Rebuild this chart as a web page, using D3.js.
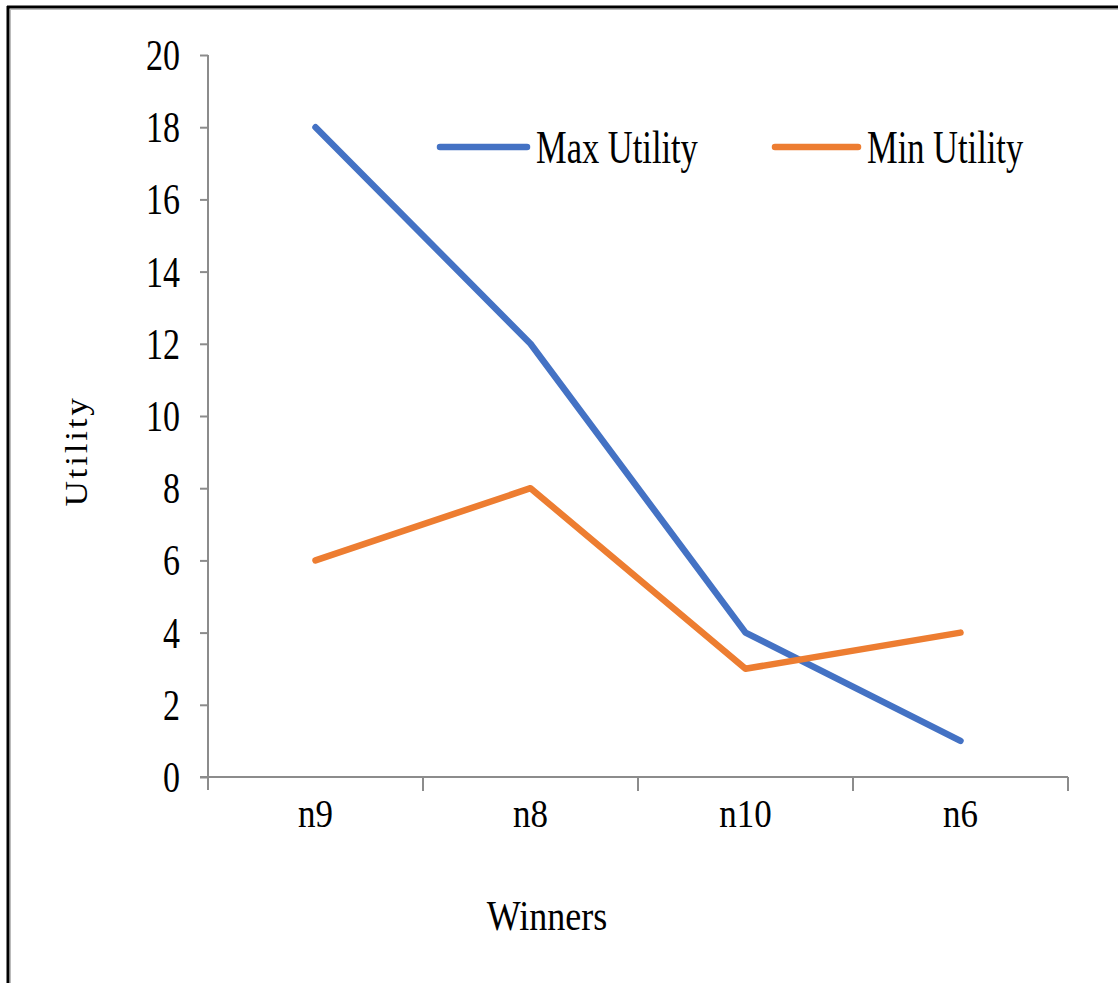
<!DOCTYPE html>
<html>
<head>
<meta charset="utf-8">
<script src="https://cdn.jsdelivr.net/npm/d3@7"></script>
<style>
  html, body { margin: 0; padding: 0; background: #fff; }
  svg { display: block; }
  text { font-family: "Liberation Serif", "Times New Roman", serif; fill: #000; }
</style>
</head>
<body>
<svg id="chart" width="1118" height="983"></svg>
<script>
// Winners and their utility values
const winners = ["n9", "n8", "n10", "n6"];
const maxUtility = [18, 12, 4, 1];
const minUtility = [6, 8, 3, 4];
const yTicks = [0, 2, 4, 6, 8, 10, 12, 14, 16, 18, 20];
const seriesNames = ["Max Utility", "Min Utility"];
const seriesColors = ["#4472C4", "#ED7D31"];

const svg = d3.select("#chart");
const W = 1118, H = 983;
const plot = { left: 208, right: 1068, top: 55, bottom: 777 };

// Frame around the figure
svg.append("line").attr("x1", 7).attr("x2", W).attr("y1", 7).attr("y2", 7)
  .attr("stroke", "#000").attr("stroke-width", 3);
svg.append("line").attr("x1", 8).attr("x2", 8).attr("y1", 6).attr("y2", H)
  .attr("stroke", "#000").attr("stroke-width", 3);
svg.append("line").attr("x1", 10).attr("x2", W).attr("y1", 9.5).attr("y2", 9.5)
  .attr("stroke", "#bbb").attr("stroke-width", 1);
svg.append("line").attr("x1", 10.5).attr("x2", 10.5).attr("y1", 10).attr("y2", H)
  .attr("stroke", "#bbb").attr("stroke-width", 1);

// Scales
const x = d3.scaleBand().domain(winners).range([plot.left, plot.right]).padding(0);
const y = d3.scaleLinear().domain([0, 20]).range([plot.bottom, plot.top]);
const axisColor = "#8c8c8c";

// Y axis: line and outward ticks
const yAxis = svg.append("g").attr("transform", `translate(${plot.left},0)`)
  .call(d3.axisLeft(y).tickValues(yTicks).tickSize(8).tickSizeOuter(0).tickFormat(""));
yAxis.select(".domain").attr("stroke", axisColor).attr("stroke-width", 2)
  .attr("d", `M0,${plot.top}V${plot.bottom + 13}`);
yAxis.selectAll(".tick line").attr("stroke", axisColor).attr("stroke-width", 2);

// Y tick labels
svg.append("g").selectAll("text").data(yTicks).join("text")
  .attr("transform", d => `translate(180,${y(d) + 15}) scale(1,1.3)`)
  .attr("text-anchor", "end")
  .style("font-size", "34px")
  .text(d => d);

// X axis: baseline and tick marks at category boundaries
svg.append("line")
  .attr("x1", plot.left - 8).attr("x2", plot.right)
  .attr("y1", plot.bottom).attr("y2", plot.bottom)
  .attr("stroke", axisColor).attr("stroke-width", 2);
const boundaries = winners.map(w => x(w)).concat([x(winners[winners.length - 1]) + x.bandwidth()]);
svg.append("g").selectAll("line").data(boundaries.slice(1)).join("line")
  .attr("x1", d => d).attr("x2", d => d)
  .attr("y1", plot.bottom).attr("y2", plot.bottom + 14)
  .attr("stroke", axisColor).attr("stroke-width", 2);

// X tick labels
svg.append("g").selectAll("text").data(winners).join("text")
  .attr("transform", d => `translate(${x(d) + x.bandwidth() / 2},827) scale(1,1.15)`)
  .attr("text-anchor", "middle")
  .style("font-size", "35px")
  .text(d => d);

// Axis titles
svg.append("text")
  .attr("transform", "translate(547,930) scale(1,1.17)")
  .attr("text-anchor", "middle")
  .style("font-size", "36px")
  .text("Winners");
svg.append("text")
  .attr("transform", "translate(87,451) rotate(-90) scale(1.1,1)")
  .attr("text-anchor", "middle")
  .style("font-size", "32px")
  .style("letter-spacing", "2.5px")
  .text("Utility");

// Series lines
const line = d3.line()
  .x((d, i) => x(winners[i]) + x.bandwidth() / 2)
  .y(d => y(d));
[maxUtility, minUtility].forEach((vals, k) => {
  svg.append("path")
    .datum(vals)
    .attr("d", line)
    .attr("fill", "none")
    .attr("stroke", seriesColors[k])
    .attr("stroke-width", 6.5)
    .attr("stroke-linejoin", "round")
    .attr("stroke-linecap", "round");
});

// Legend
const legendItems = [
  { x1: 440, x2: 527, tx: 536 },
  { x1: 775, x2: 858, tx: 867 }
];
const legend = svg.append("g");
legendItems.forEach((it, k) => {
  legend.append("line")
    .attr("x1", it.x1).attr("x2", it.x2).attr("y1", 147).attr("y2", 147)
    .attr("stroke", seriesColors[k]).attr("stroke-width", 6.5)
    .attr("stroke-linecap", "round");
  legend.append("text")
    .attr("transform", `translate(${it.tx},163) scale(1,1.32)`)
    .style("font-size", "34.5px")
    .text(seriesNames[k]);
});
</script>
</body>
</html>
